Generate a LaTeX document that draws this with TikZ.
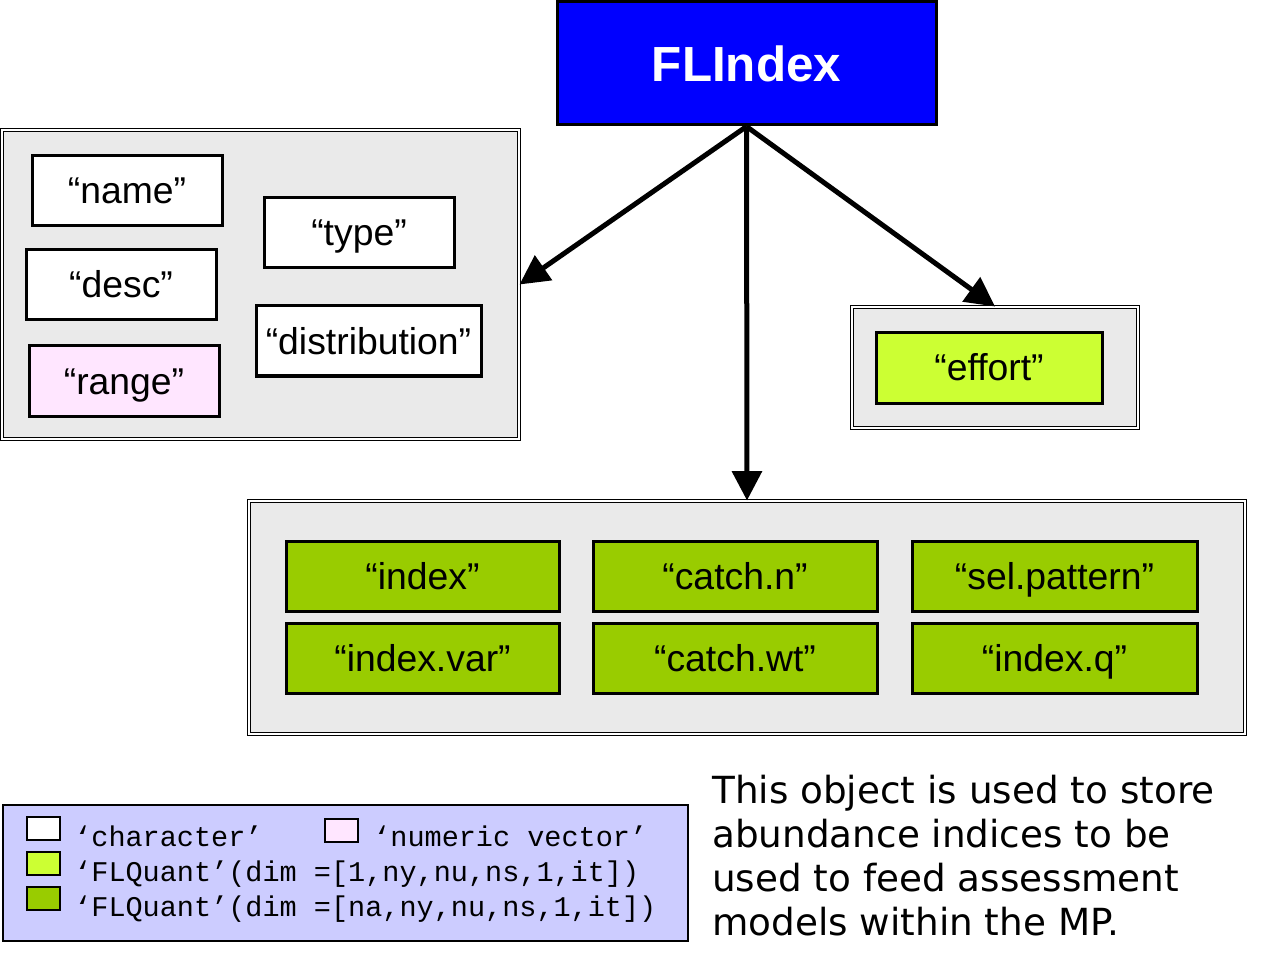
\documentclass[tikz,border=0pt]{standalone}
\usepackage{fontspec}
\setmainfont{Liberation Sans}
\setmonofont{Liberation Mono}
\newfontfamily\notefont{DejaVu Sans}
\usetikzlibrary{arrows.meta}
\definecolor{flblue}{HTML}{0000FF}
\definecolor{boxgray}{HTML}{EAEAEA}
\definecolor{vecpink}{HTML}{FFE6FF}
\definecolor{quantlight}{HTML}{CCFF33}
\definecolor{quantdark}{HTML}{99CC00}
\definecolor{legendblue}{HTML}{CCCCFF}
\def\u{0.75pt}
\tikzset{
  slot/.style={draw, line width=2.25pt, inner sep=0pt, minimum height=70*\u,
    text height=25pt, text depth=5.5pt, font=\fontsize{28}{32}\selectfont},
  holder/.style={draw, double, double distance=1.5pt, line width=0.75pt,
    fill=boxgray, inner sep=0pt},
  key/.style={draw, line width=1.5pt, inner sep=0pt, minimum width=33*\u, minimum height=23*\u},
  keytext/.style={anchor=base west, inner sep=0pt, font=\fontsize{21.4}{24}\selectfont\ttfamily},
  link/.style={line width=3.75pt, -{Triangle[length=22pt,width=22pt]}}
}
\begin{document}
\begin{tikzpicture}[x=0.75pt, y=-0.75pt]
\useasboundingbox (0,0) rectangle (1276,969);
% containers
\node[holder, minimum width=517*\u, minimum height=309*\u] (meta) at (260.5,284.5) {};
\node[holder, minimum width=286*\u, minimum height=121*\u] (effbox) at (995,367.5) {};
\node[holder, minimum width=996*\u, minimum height=233*\u] (slots) at (747,617.5) {};
% top
\node[draw, line width=2.25pt, fill=flblue, text=white, inner sep=0pt,
  minimum width=379*\u, minimum height=123*\u, font=\fontsize{37}{40}\selectfont\bfseries]
  (fl) at (746.5,63.5) {FLIndex};
% character slots
\node[slot, fill=white, minimum width=190*\u] (name) at (127,191) {“name”};
\node[slot, fill=white, minimum width=190*\u] (type) at (359,233) {“type”};
\node[slot, fill=white, minimum width=190*\u] (desc) at (121,285) {“desc”};
\node[slot, fill=white, minimum width=225*\u] (dist) at (368.5,341) {“distribution”};
\node[slot, fill=vecpink, minimum width=190*\u] (range) at (124,381) {“range”};
% effort
\node[slot, fill=quantlight, minimum width=226*\u] (effort) at (989,368) {“effort”};
% quant slots
\node[slot, fill=quantdark, minimum width=273*\u] (index) at (422.5,576) {“index”};
\node[slot, fill=quantdark, minimum width=284*\u] (catchn) at (735,576) {“catch.n”};
\node[slot, fill=quantdark, minimum width=285*\u] (selpat) at (1054.5,576) {“sel.pattern”};
\node[slot, fill=quantdark, minimum width=273*\u] (indexvar) at (422.5,658.5) {“index.var”};
\node[slot, fill=quantdark, minimum width=284*\u] (catchwt) at (735,658.5) {“catch.wt”};
\node[slot, fill=quantdark, minimum width=285*\u] (indexq) at (1054.5,658.5) {“index.q”};
% arrows
\draw[link] (fl.south) -- (meta.east);
\draw[link] (fl.south) -- (effbox.north);
\draw[link] (fl.south) -- (slots.north);
% legend
\node[draw, line width=1.5pt, fill=legendblue, minimum width=685*\u, minimum height=136*\u,
  inner sep=0pt] (legend) at (345.5,873) {};
\node[key, fill=white] (kchar) at (43.5,828.5) {};
\node[key, fill=vecpink] (knum) at (341.5,830.5) {};
\node[key, fill=quantlight] (kq1) at (43.5,863.5) {};
\node[key, fill=quantdark] (kq2) at (43.5,898.5) {};
\node[keytext] (lchar) at (74,846) {‘character’};
\node[keytext] (lnum) at (373,846) {‘numeric vector’};
\node[keytext] (lq1) at (74,881) {‘FLQuant’(dim =[1,ny,nu,ns,1,it])};
\node[keytext] (lq2) at (74,916) {‘FLQuant’(dim =[na,ny,nu,ns,1,it])};
% note
\node[anchor=north west, inner sep=0pt, align=left, font=\fontsize{28}{33}\selectfont\notefont]
  (note) at (712,775) {This object is used to store\\abundance indices to be\\used to feed assessment\\models within the MP.};
\end{tikzpicture}
\end{document}
